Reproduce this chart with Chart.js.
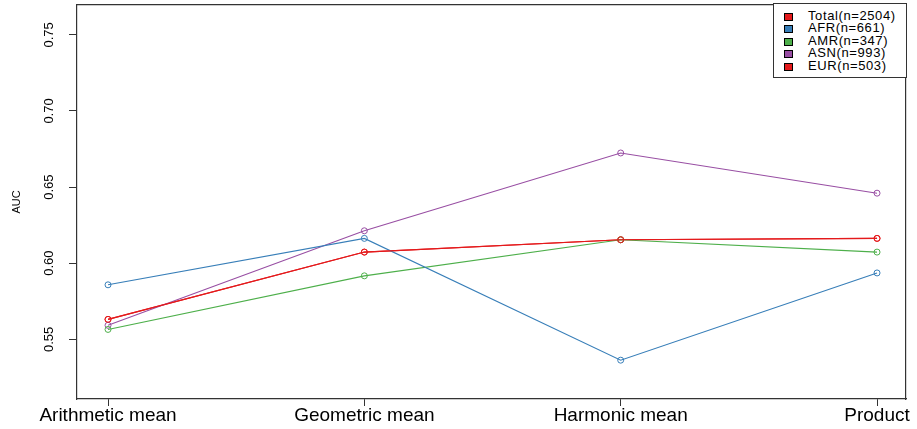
<!DOCTYPE html>
<html>
<head>
<meta charset="utf-8">
<script src="https://cdn.jsdelivr.net/npm/chart.js@4.4.0/dist/chart.umd.min.js"></script>
<style>
  html, body { margin: 0; padding: 0; background: #fff; }
  #wrap { position: relative; width: 917px; height: 429px; }
  #legend {
    position: absolute; left: 773px; top: 3px; width: 134px; height: 75px;
    border: 1px solid #333; box-sizing: border-box; background: #fff;
    font-family: "Liberation Sans", Arial, sans-serif; font-size: 13px; color: #000;
    letter-spacing: 0.6px; padding-top: 6px;
  }
  #legend .row { height: 12.4px; line-height: 12.4px; position: relative; white-space: nowrap; }
  #legend .sw {
    position: absolute; left: 10px; top: 3px; width: 7px; height: 6px;
    border: 1px solid #000;
  }
  #legend .lbl { position: absolute; left: 34px; top: 0; }
</style>
</head>
<body>
<div id="wrap">
  <canvas id="aucChart" width="917" height="429"></canvas>
  <div id="legend"></div>
</div>
<script>
// categories on the x axis
const methods = ["Arithmetic mean", "Geometric mean", "Harmonic mean", "Product"];
const methodPos = [1, 2, 3, 4];

// AUC per population
const seriesNames = ["Total(n=2504)", "AFR(n=661)", "AMR(n=347)", "ASN(n=993)", "EUR(n=503)"];
const totalAuc = [0.5631, 0.6073, 0.6154, 0.6163];
const afrAuc = [0.5858, 0.6163, 0.5363, 0.5936];
const amrAuc = [0.5565, 0.5917, 0.6154, 0.6073];
const asnAuc = [0.5592, 0.6213, 0.6724, 0.6460];
const eurAuc = [0.5631, 0.6073, 0.6154, 0.6163];

const yTicks = [0.55, 0.60, 0.65, 0.70, 0.75];

const colors = ["#E41A1C", "#377EB8", "#4DAF4A", "#984EA3", "#E41A1C"];
const allSeries = [totalAuc, afrAuc, amrAuc, asnAuc, eurAuc];

const FONT = "'Liberation Sans', Arial, sans-serif";

const datasets = allSeries.map((vals, i) => ({
  label: seriesNames[i],
  data: vals.map((v, j) => ({ x: methodPos[j], y: v })),
  borderColor: colors[i],
  backgroundColor: colors[i],
  borderWidth: 1.1,
  pointRadius: 3,
  pointBorderWidth: 1,
  pointBackgroundColor: "rgba(0,0,0,0)",
  pointBorderColor: colors[i],
  tension: 0,
}));

const chart = new Chart(document.getElementById("aucChart").getContext("2d"), {
  type: "line",
  data: { datasets },
  options: {
    responsive: false,
    animation: false,
    layout: { padding: { top: 3, right: 11, left: 0, bottom: 0 } },
    plugins: {
      legend: { display: false },
      tooltip: { enabled: false },
    },
    scales: {
      x: {
        type: "linear",
        position: "bottom",
        min: 0.879,
        max: 4.113,
        afterBuildTicks: (scale) => {
          scale.ticks = methodPos.map((v) => ({ value: v }));
        },
        afterFit: (scale) => {
          scale.height = 30;
          scale.paddingLeft = 0;
          scale.paddingRight = 0;
        },
        ticks: {
          callback: (v) => methods[methodPos.indexOf(v)],
          font: { family: FONT, size: 19, lineHeight: 1 },
          color: "#000",
          padding: 0,
          maxRotation: 0,
          autoSkip: false,
        },
        grid: { drawOnChartArea: false, drawTicks: true, tickLength: 7, color: "#333" },
        border: { display: true, color: "#333", width: 1.2 },
      },
      x2: {
        type: "linear",
        position: "top",
        min: 0.879,
        max: 4.113,
        afterFit: (scale) => { scale.height = 0; },
        ticks: { display: false },
        grid: { drawOnChartArea: false, drawTicks: false },
        border: { display: true, color: "#333", width: 1.2 },
      },
      y: {
        position: "left",
        min: 0.5108,
        max: 0.7696,
        afterBuildTicks: (scale) => {
          scale.ticks = yTicks.map((v) => ({ value: v }));
        },
        afterFit: (scale) => {
          scale.width = 77;
          scale.paddingTop = 0;
          scale.paddingBottom = 0;
        },
        ticks: {
          callback: (v) => v.toFixed(2),
          font: { family: FONT, size: 13 },
          color: "#000",
          padding: 7,
          minRotation: 90,
          maxRotation: 90,
          crossAlign: "center",
          autoSkip: false,
        },
        title: {
          display: true,
          text: "AUC",
          font: { family: FONT, size: 11 },
          color: "#000",
          padding: { top: 10, bottom: 0 },
        },
        grid: { drawOnChartArea: false, drawTicks: true, tickLength: 8, color: "#333" },
        border: { display: true, color: "#333", width: 1.2 },
      },
      y2: {
        position: "right",
        min: 0.5108,
        max: 0.7696,
        afterFit: (scale) => { scale.width = 0; },
        ticks: { display: false },
        grid: { drawOnChartArea: false, drawTicks: false },
        border: { display: true, color: "#333", width: 1.2 },
      },
    },
  },
});

// HTML legend box built from the chart's own legend items
const legendEl = document.getElementById("legend");
chart.options.plugins.legend.labels.generateLabels(chart).forEach((item) => {
  const row = document.createElement("div");
  row.className = "row";
  const sw = document.createElement("span");
  sw.className = "sw";
  sw.style.background = item.strokeStyle;
  const lbl = document.createElement("span");
  lbl.className = "lbl";
  lbl.textContent = item.text;
  row.appendChild(sw);
  row.appendChild(lbl);
  legendEl.appendChild(row);
});
</script>
</body>
</html>
